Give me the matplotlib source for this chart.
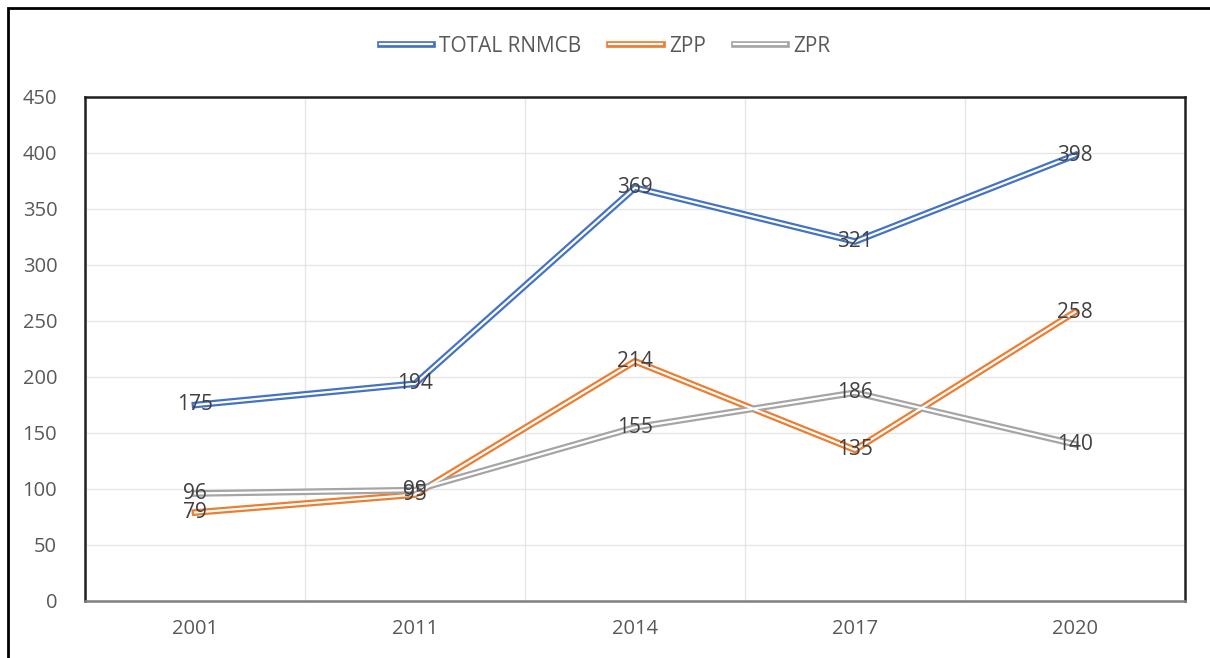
import matplotlib
matplotlib.use("Agg")
import matplotlib.pyplot as plt
from matplotlib.lines import Line2D
from matplotlib.legend_handler import HandlerTuple
from matplotlib.patches import Rectangle

years = ["2001", "2011", "2014", "2017", "2020"]
total_rnmcb = [175, 194, 369, 321, 398]
zpp = [79, 95, 214, 135, 258]
zpr = [96, 99, 155, 186, 140]

series = [
    ("TOTAL RNMCB", total_rnmcb, "#4472c4"),
    ("ZPP", zpp, "#ed7d31"),
    ("ZPR", zpr, "#a5a5a5"),
]

plt.rcParams['font.family'] = ['Open Sans', 'DejaVu Sans']

fig = plt.figure(figsize=(12.1, 6.58), dpi=100)
ax = fig.add_axes([85/1210, 57/658, 1100/1210, 504/658])

x = list(range(len(years)))
handles = []
labels = []
# each series is a "double" line: thick colored stroke with a white core
for name, vals, col in series:
    ax.plot(x, vals, color=col, lw=4.8, solid_joinstyle='miter', zorder=3)
    ax.plot(x, vals, color="white", lw=1.6, solid_joinstyle='miter', zorder=4)
    handles.append((Line2D([], [], color=col, lw=4.8), Line2D([], [], color="white", lw=1.6)))
    labels.append(name)

# value labels centered on the points
for name, vals, col in series:
    for xi, v in zip(x, vals):
        ax.text(xi, v, str(v), ha="center", va="center", fontsize=15,
                color="#404040", zorder=5)

ax.set_xlim(-0.5, 4.5)
ax.set_ylim(0, 450)
ax.set_yticks(range(0, 451, 50))
ax.set_xticks(x)
ax.set_xticklabels(years)
ax.set_xticks([0.5, 1.5, 2.5, 3.5], minor=True)
ax.tick_params(axis="both", which="both", length=0, labelsize=14.5, colors="#595959")
ax.tick_params(axis="x", pad=13)
ax.tick_params(axis="y", pad=20)
ax.grid(True, axis="y", color="#e6e6e6", lw=1)
ax.grid(True, axis="x", which="minor", color="#e6e6e6", lw=1)
ax.grid(False, axis="x", which="major")
ax.set_axisbelow(True)

for side in ["left", "top", "right"]:
    ax.spines[side].set_color("#202020")
    ax.spines[side].set_linewidth(1.8)
ax.spines["bottom"].set_color("#7f7f7f")
ax.spines["bottom"].set_linewidth(1.8)

fig.legend(handles, labels, handler_map={tuple: HandlerTuple(ndivide=1)},
           loc="center", bbox_to_anchor=(0.5, 1 - 46/658), ncol=3, frameon=False,
           fontsize=15, labelcolor="#595959", handlelength=2.5, columnspacing=1.35,
           handletextpad=0.35)

# outer frame around the chart
fig.patches.append(Rectangle((8/1210, -0.05), 1.1, 1 - 8/658 + 0.05,
                             transform=fig.transFigure, fill=False,
                             edgecolor="black", lw=2))

fig.savefig("out.png", dpi=100)
